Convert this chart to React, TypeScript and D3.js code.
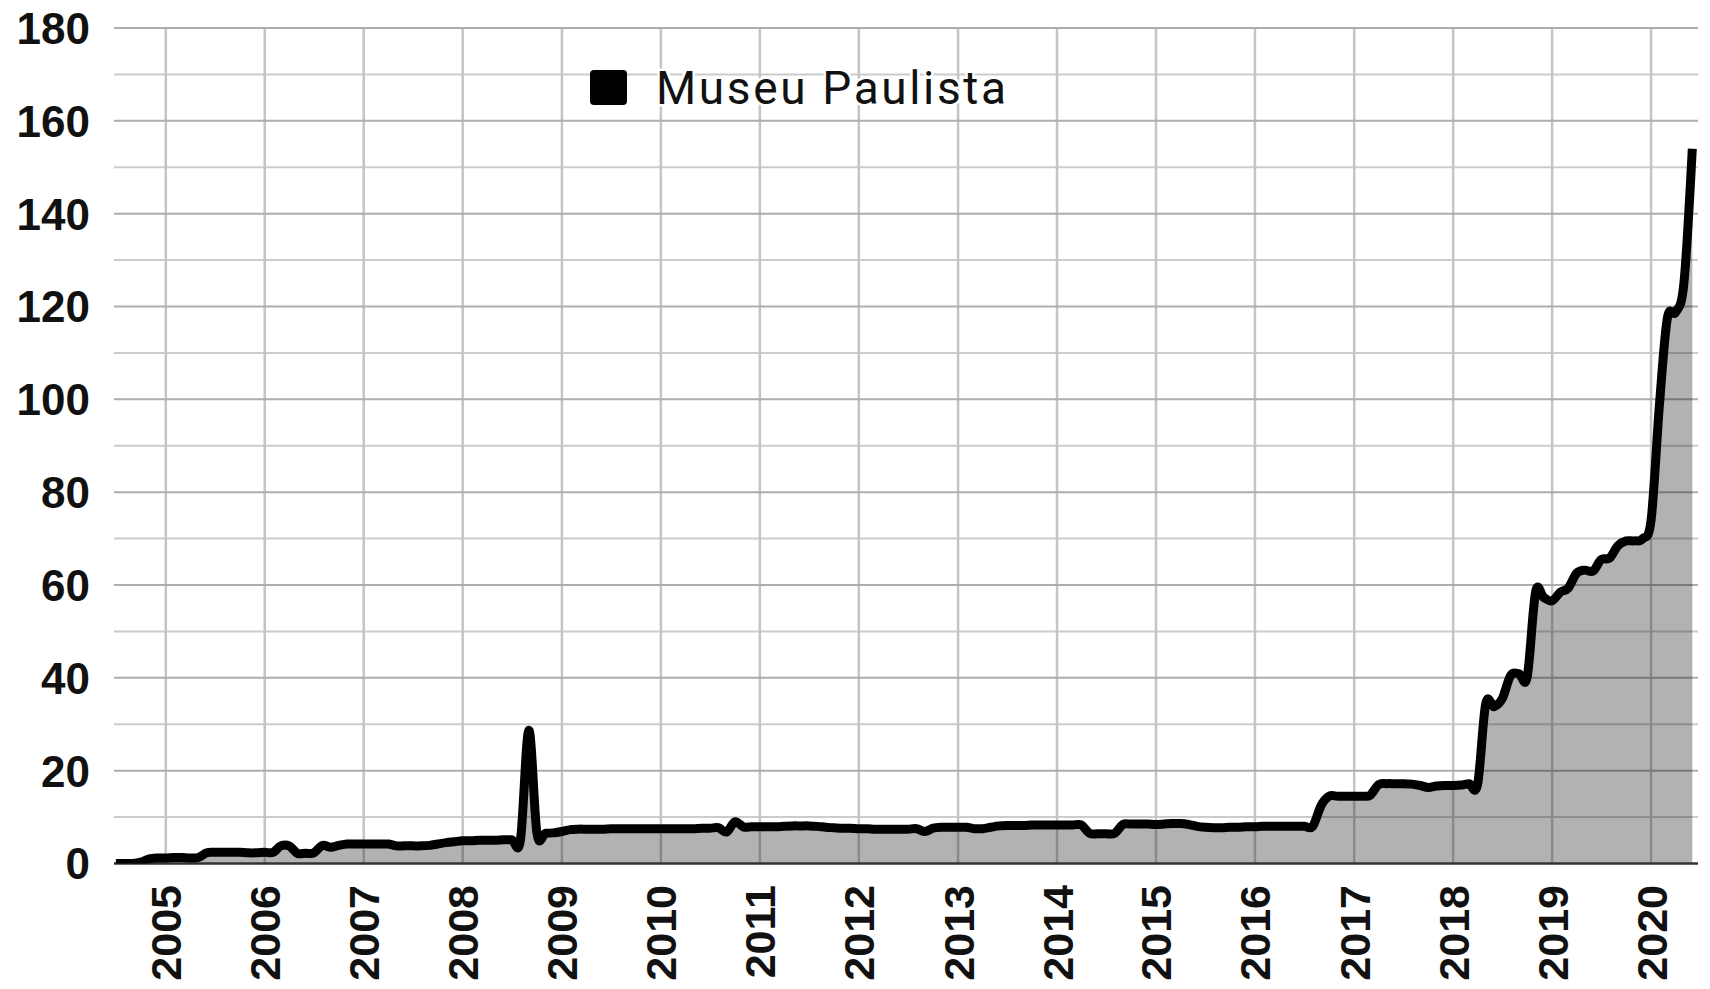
import * as d3 from "d3";

const WIDTH = 1710;
const HEIGHT = 989;
const MARGIN = { top: 28, right: 12, bottom: 125.5, left: 114 };

const SERIES_NAME = "Museu Paulista";

// monthly values, first month is July 2004
const FIRST_MONTH = new Date(2004, 6, 1);
const V_2004 = [0, 0, 0, 0.3, 1.0, 1.2];
const V_2005 = [1.2, 1.3, 1.3, 1.2, 1.3, 2.3, 2.4, 2.4, 2.4, 2.4, 2.3, 2.3];
const V_2006 = [2.4, 2.4, 3.8, 3.8, 2.2, 2.2, 2.3, 3.9, 3.5, 3.9, 4.2, 4.2];
const V_2007 = [4.2, 4.2, 4.2, 4.2, 3.8, 3.8, 3.8, 3.8, 3.9, 4.2, 4.5, 4.7];
const V_2008 = [4.9, 4.9, 5.0, 5.0, 5.0, 5.1, 5.1, 5.1, 28.7, 6.5, 6.5, 6.6];
const V_2009 = [6.9, 7.3, 7.4, 7.4, 7.4, 7.4, 7.5, 7.5, 7.5, 7.5, 7.5, 7.5];
const V_2010 = [7.5, 7.5, 7.5, 7.5, 7.5, 7.6, 7.6, 7.7, 6.8, 9.0, 7.9, 7.9];
const V_2011 = [7.9, 7.9, 7.9, 8.0, 8.1, 8.1, 8.1, 8.0, 7.8, 7.7, 7.6, 7.6];
const V_2012 = [7.5, 7.5, 7.4, 7.4, 7.4, 7.4, 7.4, 7.5, 6.9, 7.6, 7.8, 7.8];
const V_2013 = [7.8, 7.8, 7.5, 7.5, 7.8, 8.1, 8.2, 8.2, 8.2, 8.3, 8.3, 8.3];
const V_2014 = [8.3, 8.3, 8.3, 8.3, 6.5, 6.4, 6.4, 6.5, 8.4, 8.5, 8.5, 8.5];
const V_2015 = [8.4, 8.5, 8.6, 8.6, 8.4, 8.0, 7.8, 7.7, 7.7, 7.8, 7.8, 7.9];
const V_2016 = [7.9, 8.0, 8.0, 8.0, 8.0, 8.0, 8.0, 8.0, 12.5, 14.5, 14.5, 14.5];
const V_2017 = [14.5, 14.5, 14.7, 17.0, 17.2, 17.2, 17.2, 17.1, 16.8, 16.4, 16.7, 16.8];
const V_2018 = [16.8, 16.9, 17.2, 17.0, 34.4, 33.8, 35.5, 40.5, 40.9, 40.2, 58.5, 57.3];
const V_2019 = [56.6, 58.5, 59.3, 62.5, 63.2, 63.0, 65.5, 65.8, 68.5, 69.5, 69.5, 70.0];
const V_2020 = [74, 99, 117.5, 118.8, 125, 154];

const VALUES = [
    ...V_2004, ...V_2005, ...V_2006, ...V_2007, ...V_2008, ...V_2009,
    ...V_2010, ...V_2011, ...V_2012, ...V_2013, ...V_2014, ...V_2015,
    ...V_2016, ...V_2017, ...V_2018, ...V_2019, ...V_2020,
];

const X_DOMAIN: [Date, Date] = [new Date(2004, 5, 24), new Date(2020, 5, 22)];
const YEAR_TICKS = d3.range(2005, 2021);
const Y_MAX = 180;
const Y_LABELS = d3.range(0, Y_MAX + 1, 20);
const Y_MINOR = d3.range(10, Y_MAX, 20);

type Pt = { date: Date; value: number };

export default function App() {
    const months = VALUES.map((_, i) => d3.timeMonth.offset(FIRST_MONTH, i));
    const data: Pt[] = months.map((date, i) => ({ date, value: VALUES[i] }));

    const x = d3.scaleTime().domain(X_DOMAIN).range([MARGIN.left, WIDTH - MARGIN.right]);
    const y = d3.scaleLinear().domain([0, Y_MAX]).range([HEIGHT - MARGIN.bottom, MARGIN.top]);

    // catmull-rom style smoothing, overshoots a bit around the steps like the original
    const curve = d3.curveCardinal.tension(0);
    const lineGen = d3.line<Pt>().x((d) => x(d.date)).y((d) => y(d.value)).curve(curve);
    const areaGen = d3.area<Pt>().x((d) => x(d.date)).y0(y(0)).y1((d) => y(d.value)).curve(curve);

    const x0 = MARGIN.left;
    const x1 = WIDTH - MARGIN.right;
    const yTop = y(Y_MAX);
    const yBottom = y(0);

    return (
        <div style={{ position: "absolute", left: 0, top: 0 }}>
            <svg width={WIDTH} height={HEIGHT} style={{ display: "block", background: "#fff" }}>
                <defs>
                    <clipPath id="plot-clip">
                        <rect x={x0} y={yTop - 1} width={x1 - x0} height={yBottom - yTop + 1} />
                    </clipPath>
                </defs>

                {/* grid */}
                {Y_MINOR.map((v) => (
                    <line key={"mi" + v} x1={x0} x2={x1} y1={y(v)} y2={y(v)} stroke="#cccccc" strokeWidth={2} />
                ))}
                {YEAR_TICKS.map((yr) => {
                    const xx = x(new Date(yr, 0, 1));
                    return <line key={"v" + yr} x1={xx} x2={xx} y1={yTop} y2={yBottom} stroke="#c4c4c4" strokeWidth={2.5} />;
                })}
                {Y_LABELS.filter((v) => v > 0).map((v) => (
                    <line key={"ma" + v} x1={x0} x2={x1} y1={y(v)} y2={y(v)} stroke="#adadad" strokeWidth={2} />
                ))}

                <g clipPath="url(#plot-clip)">
                    <path d={areaGen(data) ?? ""} fill="#000" fillOpacity={0.3} />
                </g>

                <line x1={x0} x2={x1} y1={yBottom} y2={yBottom} stroke="#333" strokeWidth={2.5} />

                <g clipPath="url(#plot-clip)">
                    <path
                        d={lineGen(data) ?? ""}
                        fill="none"
                        stroke="#000"
                        strokeWidth={9}
                        strokeLinejoin="round"
                    />
                </g>

                {/* y labels */}
                {Y_LABELS.map((v) => (
                    <text
                        key={"yl" + v}
                        x={90}
                        y={y(v)}
                        dy="0.36em"
                        textAnchor="end"
                        fontFamily="'Liberation Sans', Arial, sans-serif"
                        fontWeight="bold"
                        fontSize={44}
                        fill="#111"
                    >
                        {v}
                    </text>
                ))}

                {/* x labels */}
                {YEAR_TICKS.map((yr) => {
                    const xx = x(new Date(yr, 0, 1));
                    return (
                        <text
                            key={"xl" + yr}
                            transform={`translate(${xx + 15.5},${885}) rotate(-90)`}
                            textAnchor="end"
                            fontFamily="'Liberation Sans', Arial, sans-serif"
                            fontWeight="bold"
                            fontSize={43}
                            fill="#111"
                        >
                            {yr}
                        </text>
                    );
                })}

                {/* legend */}
                <rect x={590} y={70} width={37} height={35} rx={4} fill="#000" />
                <text
                    x={656}
                    y={104}
                    fontFamily="Roboto, 'Noto Sans', sans-serif"
                    fontSize={46}
                    textLength={350}
                    lengthAdjust="spacing"
                    fill="#111"
                    stroke="#fff"
                    strokeWidth={5}
                    paintOrder="stroke"
                >
                    {SERIES_NAME}
                </text>
            </svg>
        </div>
    );
}
